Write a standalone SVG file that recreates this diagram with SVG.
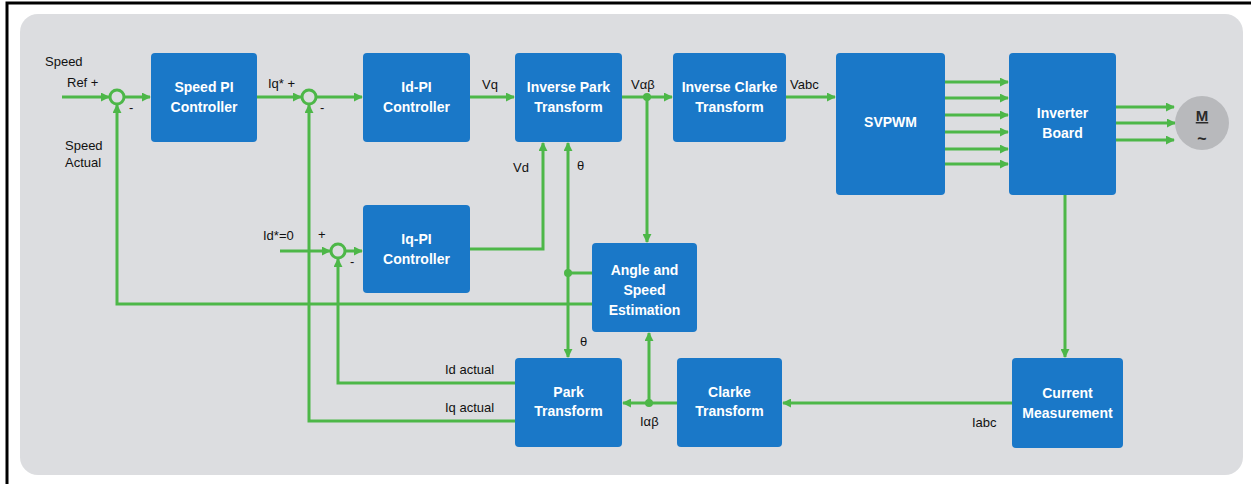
<svg xmlns="http://www.w3.org/2000/svg" width="1251" height="484" viewBox="0 0 1251 484">
<defs>
<marker id="ah" viewBox="0 0 10 10" refX="9" refY="5" markerWidth="9" markerHeight="9" markerUnits="userSpaceOnUse" orient="auto">
<path d="M0,0 L10,5 L0,10 z" fill="#4db748"/>
</marker>
<style>
.blk{fill:#1a78c8;}
.bt{font-family:"Liberation Sans",Arial,sans-serif;font-size:14px;font-weight:bold;fill:#ffffff;text-anchor:middle;}
.lb{font-family:"Liberation Sans",Arial,sans-serif;font-size:13px;fill:#111111;}
.w{fill:none;stroke:#4db748;stroke-width:3;}
.a{fill:none;stroke:#4db748;stroke-width:3;marker-end:url(#ah);}
.sum{fill:#dcdde0;stroke:#4db748;stroke-width:3;}
.dot{fill:#4db748;}
</style>
</defs>
<rect x="0" y="0" width="1251" height="484" fill="#ffffff"/>
<path d="M7,484 V3 H1251" fill="none" stroke="#000" stroke-width="3"/>
<rect x="20" y="14" width="1223" height="461" rx="18" fill="#dcdde0"/>

<g id="connectors">
<path class="a" d="M62,97 H109"/>
<path class="a" d="M124,97 H150"/>
<path class="a" d="M592,304 H117 V105"/>
<path class="a" d="M257,97 H301"/>
<path class="a" d="M316,97 H362"/>
<path class="a" d="M515,421 H309 V105"/>
<path class="a" d="M280,251 H330"/>
<path class="a" d="M345,251 H362"/>
<path class="a" d="M515,383 H338 V259"/>
<path class="a" d="M470,97 H514"/>
<path class="a" d="M470,249 H543 V143"/>
<path class="w" d="M592,273 H568"/>
<path class="a" d="M568,273 V143"/>
<path class="a" d="M568,273 V357"/>
<circle class="dot" cx="568" cy="273" r="4"/>
<path class="a" d="M622,97 H672"/>
<path class="a" d="M647,97 V242"/>
<circle class="dot" cx="647" cy="97" r="4"/>
<path class="a" d="M786,97 H835"/>
<path class="a" d="M945,82 H1008"/>
<path class="a" d="M945,98 H1008"/>
<path class="a" d="M945,115 H1008"/>
<path class="a" d="M945,132 H1008"/>
<path class="a" d="M945,149 H1008"/>
<path class="a" d="M945,164 H1008"/>
<path class="a" d="M1116,107 H1174"/>
<path class="a" d="M1116,123 H1175"/>
<path class="a" d="M1116,140 H1174"/>
<path class="a" d="M1065,195 V357"/>
<path class="a" d="M1012,403 H783"/>
<path class="a" d="M677,403 H623"/>
<path class="a" d="M649,403 V333"/>
<circle class="dot" cx="649" cy="403" r="4"/>
</g>

<g id="sum1"><circle class="sum" cx="117" cy="97" r="7"/></g>
<g id="sum2"><circle class="sum" cx="309" cy="97" r="7"/></g>
<g id="sum3"><circle class="sum" cx="338" cy="251" r="7"/></g>

<g id="speed-pi"><rect class="blk" x="151" y="53" width="106" height="89" rx="4"/><text class="bt" x="204" y="92">Speed PI</text><text class="bt" x="204" y="112">Controller</text></g>
<g id="id-pi"><rect class="blk" x="363" y="53" width="107" height="89" rx="4"/><text class="bt" x="416.5" y="92">Id-PI</text><text class="bt" x="416.5" y="112">Controller</text></g>
<g id="inv-park"><rect class="blk" x="515" y="53" width="107" height="89" rx="4"/><text class="bt" x="568.5" y="92">Inverse Park</text><text class="bt" x="568.5" y="112">Transform</text></g>
<g id="inv-clarke"><rect class="blk" x="673" y="53" width="113" height="89" rx="4"/><text class="bt" x="729.5" y="92">Inverse Clarke</text><text class="bt" x="729.5" y="112">Transform</text></g>
<g id="svpwm"><rect class="blk" x="836" y="53" width="109" height="142" rx="4"/><text class="bt" x="890.5" y="127">SVPWM</text></g>
<g id="inverter"><rect class="blk" x="1009" y="53" width="107" height="142" rx="4"/><text class="bt" x="1062.5" y="118">Inverter</text><text class="bt" x="1062.5" y="138">Board</text></g>
<g id="motor"><circle cx="1202" cy="123" r="27" fill="#b8b9bc"/><text x="1202" y="121" font-family="Liberation Sans,Arial,sans-serif" font-size="15" font-weight="bold" fill="#2a2a2a" text-anchor="middle" text-decoration="underline">M</text><text x="1202" y="144" font-family="Liberation Sans,Arial,sans-serif" font-size="16" font-weight="bold" fill="#2a2a2a" text-anchor="middle">~</text></g>
<g id="iq-pi"><rect class="blk" x="363" y="205" width="107" height="88" rx="4"/><text class="bt" x="416.5" y="244">Iq-PI</text><text class="bt" x="416.5" y="264">Controller</text></g>
<g id="angle-est"><rect class="blk" x="592" y="243" width="105" height="89" rx="4"/><text class="bt" x="644.5" y="275">Angle and</text><text class="bt" x="644.5" y="295">Speed</text><text class="bt" x="644.5" y="315">Estimation</text></g>
<g id="park"><rect class="blk" x="515" y="358" width="107" height="89" rx="4"/><text class="bt" x="568.5" y="397">Park</text><text class="bt" x="568.5" y="416">Transform</text></g>
<g id="clarke"><rect class="blk" x="677" y="358" width="105" height="89" rx="4"/><text class="bt" x="729.5" y="397">Clarke</text><text class="bt" x="729.5" y="416">Transform</text></g>
<g id="current-meas"><rect class="blk" x="1012" y="358" width="111" height="90" rx="4"/><text class="bt" x="1067.5" y="398">Current</text><text class="bt" x="1067.5" y="418">Measurement</text></g>

<g id="labels">
<text class="lb" x="45" y="66">Speed</text>
<text class="lb" x="67" y="87">Ref  +</text>
<text class="lb" x="129" y="112">-</text>
<text class="lb" x="65" y="150">Speed</text>
<text class="lb" x="65" y="167">Actual</text>
<text class="lb" x="268" y="88">Iq* +</text>
<text class="lb" x="320" y="112">-</text>
<text class="lb" x="263" y="240">Id*=0</text>
<text class="lb" x="318" y="239">+</text>
<text class="lb" x="350" y="266">-</text>
<text class="lb" x="482" y="89">Vq</text>
<text class="lb" x="513" y="172">Vd</text>
<text class="lb" x="577" y="170">θ</text>
<text class="lb" x="580" y="346">θ</text>
<text class="lb" x="631" y="89">Vαβ</text>
<text class="lb" x="790" y="89">Vabc</text>
<text class="lb" x="445" y="374">Id actual</text>
<text class="lb" x="445" y="412">Iq actual</text>
<text class="lb" x="640" y="426">Iαβ</text>
<text class="lb" x="972" y="427">Iabc</text>
</g>
</svg>
